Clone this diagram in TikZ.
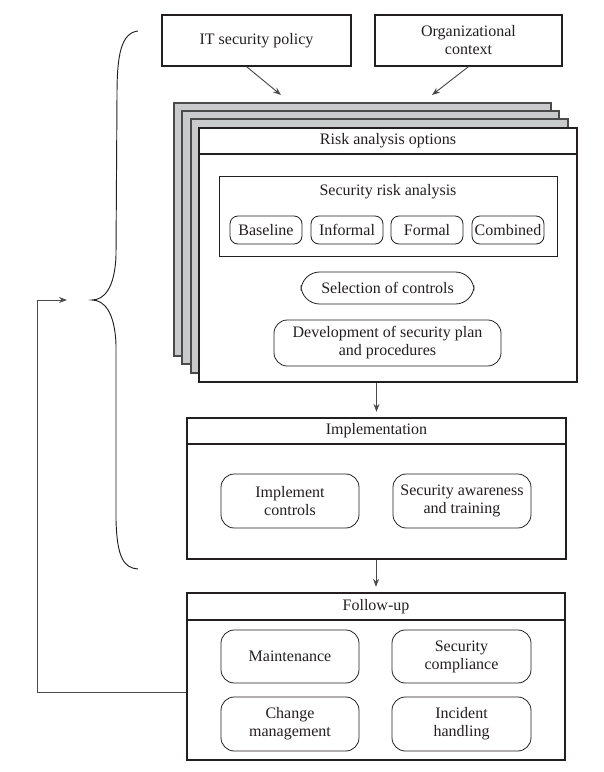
\documentclass[tikz,border=0pt]{standalone}
\usepackage{fontspec}
\setmainfont{Liberation Serif}
\usetikzlibrary{fit,arrows.meta,calc}
\definecolor{ink}{HTML}{231F20}
\definecolor{cgray}{HTML}{C9CACC}
\definecolor{lgray}{HTML}{4A4A4A}
\tikzset{
  every node/.style={font=\fontsize{12}{13.5}\selectfont, text=ink},
  txt/.style={align=center, inner sep=0pt},
  topbox/.style={draw=ink, line width=0.9pt, inner sep=0pt},
  mainbox/.style={draw=ink, line width=1.2pt, fill=white, inner sep=0pt},
  layer/.style={draw=lgray, line width=0.8pt, fill=cgray, inner sep=0pt},
  inbox/.style={draw=ink, line width=0.6pt, rounded corners=7pt, inner sep=0pt},
  srabox/.style={draw=ink, line width=0.6pt, inner sep=0pt},
  bar/.style={draw=ink, line width=1.2pt},
  arr/.style={draw=lgray, line width=0.7pt, -{Stealth[length=6pt,width=4.5pt]}},
  fline/.style={draw=lgray, line width=0.7pt},
  bracel/.style={draw=ink, line width=0.7pt}
}
\begin{document}
\begin{tikzpicture}[x=0.75pt,y=-0.75pt]
\useasboundingbox (0,0) rectangle (604,772);

% top boxes
\node[topbox, fit={(162,15) (351,66)}] (it) {};
\node[txt] (itt) at (it.center) {IT security policy};
\node[topbox, fit={(375,15) (562,66)}] (org) {};
\node[txt] (orgt) at (org.center) {Organizational\\context};

% stacked layers
\node[layer, fit={(174,103) (551,356)}] (l1) {};
\node[layer, fit={(182,111) (559,364)}] (l2) {};
\node[layer, fit={(191,119) (568,373)}] (l3) {};
\node[mainbox, fit={(199,128) (577,382)}] (front) {};
\draw[bar] (front.west |- 0,154) -- (front.east |- 0,154);
\node[txt] (rtitle) at (388,141) {Risk analysis options};

% security risk analysis
\node[srabox, fit={(219,176) (557,256)}] (sra) {};
\node[txt] (sratitle) at (388,192) {Security risk analysis};
\node[inbox, rounded corners=6pt, fit={(230,216) (302,244)}] (base) {};
\node[txt] at (base.center) {Baseline};
\node[inbox, rounded corners=6pt, fit={(311,216) (383,244)}] (inf) {};
\node[txt] at (inf.center) {Informal};
\node[inbox, rounded corners=6pt, fit={(391,216) (463,244)}] (form) {};
\node[txt] at (form.center) {Formal};
\node[inbox, rounded corners=6pt, fit={(472,216) (544,244)}] (comb) {};
\node[txt] at (comb.center) {Combined};
\node[inbox, rounded corners=14pt, fit={(301,272) (474,304)}] (sel) {};
\node[txt] at (sel.center) {Selection of controls};
\node[inbox, rounded corners=10pt, fit={(274,320) (501,366)}] (dev) {};
\node[txt] at (dev.center) {Development of security plan\\and procedures};

% arrows from top boxes
\coordinate (t1) at (281,95);
\coordinate (t2) at (432,95);
\draw[arr] ($(it.south)+(-10,0)$) -- (t1);
\draw[arr] (org.south) -- (t2);

% implementation
\node[mainbox, fit={(187,418) (566,559)}] (impl) {};
\draw[bar] (impl.west |- 0,444) -- (impl.east |- 0,444);
\node[txt] (ititle) at (376.5,431) {Implementation};
\node[inbox, rounded corners=10pt, fit={(221,474) (359,528)}] (ic) {};
\node[txt] at (ic.center) {Implement\\controls};
\node[inbox, rounded corners=10pt, fit={(393,474) (531,528)}] (sat) {};
\node[txt] at (sat.center) {Security awareness\\and training};

\draw[arr, shorten >=4pt] (impl.north |- front.south) -- (impl.north);

% follow-up
\node[mainbox, fit={(187,593) (565,760)}] (fol) {};
\draw[bar] (fol.west |- 0,620) -- (fol.east |- 0,620);
\node[txt] (ftitle) at (376,606.5) {Follow-up};
\node[inbox, rounded corners=10pt, fit={(221,630) (359,683)}] (mt) {};
\node[txt] at (mt.center) {Maintenance};
\node[inbox, rounded corners=10pt, fit={(392,630) (531,683)}] (sc) {};
\node[txt] at (sc.center) {Security\\compliance};
\node[inbox, rounded corners=10pt, fit={(221,697) (359,751)}] (cm) {};
\node[txt] at (cm.center) {Change\\management};
\node[inbox, rounded corners=10pt, fit={(392,697) (531,751)}] (ih) {};
\node[txt] at (ih.center) {Incident\\handling};

\draw[arr, shorten >=4pt] (fol.north |- impl.south) -- (fol.north);

% brace
\coordinate (btip) at (92,300);
\draw[bracel] (138,31) .. controls (121,33) and (117,55) .. (117,95)
  -- (116,255) .. controls (115,288) and (104,300) .. (btip)
  .. controls (104,300) and (115,312) .. (116,345)
  -- (116,520) .. controls (117,558) and (124,568) .. (138,569);

% feedback
\coordinate (fb1) at (37,692);
\coordinate (fb2) at (37,300);
\coordinate (fbend) at (67,300);
\draw[fline] (fol.west |- fb1) -- (fb1) -- (fb2);
\draw[arr] (fb2) -- (fbend);
\end{tikzpicture}
\end{document}
